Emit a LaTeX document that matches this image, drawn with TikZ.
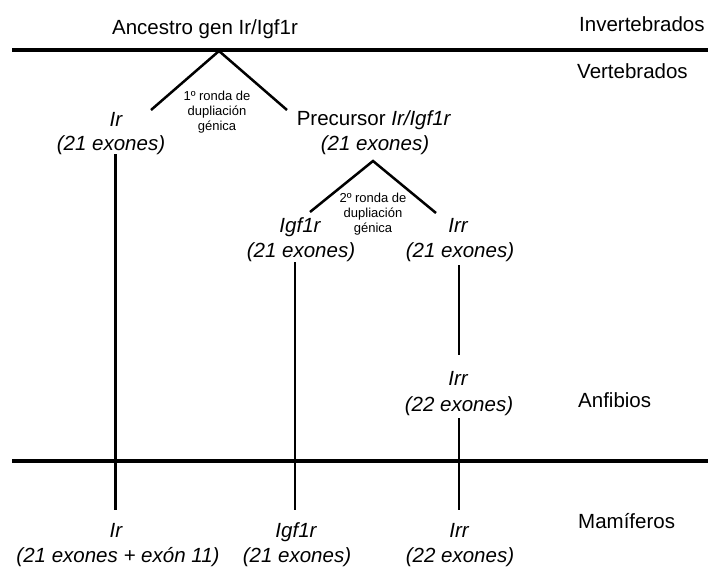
\documentclass[tikz,border=0pt]{standalone}
\usepackage{fontspec}
\setmainfont{Liberation Sans}
\begin{document}
\begin{tikzpicture}[x=1pt,y=-1pt,
  lbl/.style={anchor=base,inner sep=0pt,font=\fontsize{20.5}{25}\selectfont},
  ilbl/.style={lbl,font=\fontsize{20.5}{25}\selectfont\itshape},
  small/.style={anchor=base,inner sep=0pt,font=\fontsize{13}{15}\selectfont},
  era/.style={line width=4.5pt},
  branch/.style={line width=2.5pt},
  lineage/.style={line width=2.2pt}]
\useasboundingbox (0,0) rectangle (708,568);
% horizontal era lines
\coordinate (t1) at (12,50);
\coordinate (t2) at (708,50);
\coordinate (b1) at (12,461);
\coordinate (b2) at (708,461);
\draw[era] (t1) -- (t2);
\draw[era] (b1) -- (b2);
% labels on right
\node[lbl,anchor=base west] (inv) at (579,31) {Invertebrados};
\node[lbl,anchor=base west] (ver) at (577,78) {Vertebrados};
\node[lbl,anchor=base west] (anf) at (578,407) {Anfibios};
\node[lbl,anchor=base west] (mam) at (578,528) {Mamíferos};
% ancestor
\node[lbl] (anc) at (205,34) {Ancestro gen Ir/Igf1r};
% first duplication
\coordinate (a1) at (219,51);
\coordinate (a1l) at (151,110);
\coordinate (a1r) at (287,110);
\draw[branch] (a1l) -- (a1) -- (a1r);
\node[small] (d1a) at (217,100) {1º ronda de};
\node[small] (d1b) at (217,115) {dupliación};
\node[small] (d1c) at (217,130) {génica};
% Ir branch
\node[ilbl] (ir1) at (116,126) {Ir};
\node[ilbl] (ir1e) at (111,150) {(21 exones)};
% precursor
\node[lbl] (prec) at (374,125) {Precursor \textit{Ir/Igf1r}};
\node[ilbl] (prece) at (375,150) {(21 exones)};
% second duplication
\coordinate (a2) at (373,161);
\coordinate (a2l) at (310,212);
\coordinate (a2r) at (436,213);
\draw[branch] (a2l) -- (a2) -- (a2r);
\node[small] (d2a) at (373,202) {2º ronda de};
\node[small] (d2b) at (373,217) {dupliación};
\node[small] (d2c) at (373,232) {génica};
\node[ilbl] (igf) at (300,232) {Igf1r};
\node[ilbl] (igfe) at (301,257) {(21 exones)};
\node[ilbl] (irr) at (458,232) {Irr};
\node[ilbl] (irre) at (460,257) {(21 exones)};
% amphibian Irr
\node[ilbl] (irr2) at (458,385) {Irr};
\node[ilbl] (irr2e) at (459,411) {(22 exones)};
% mammals
\node[ilbl] (irm) at (116,537) {Ir};
\node[ilbl] (irme) at (118,562) {(21 exones + exón 11)};
\node[ilbl] (igfm) at (296,537) {Igf1r};
\node[ilbl] (igfme) at (297,562) {(21 exones)};
\node[ilbl] (irrm) at (459,537) {Irr};
\node[ilbl] (irrme) at (460,562) {(22 exones)};
% lineage lines
\coordinate (l1a) at (115.5,154);
\coordinate (l1b) at (115.5,510);
\coordinate (l2a) at (295,262);
\coordinate (l2b) at (295,510);
\coordinate (l3a) at (459,265);
\coordinate (l3b) at (459,355);
\coordinate (l4a) at (459,418);
\coordinate (l4b) at (459,510);
\draw[lineage] (l1a) -- (l1b);
\draw[lineage] (l2a) -- (l2b);
\draw[lineage] (l3a) -- (l3b);
\draw[lineage] (l4a) -- (l4b);
\end{tikzpicture}
\end{document}
